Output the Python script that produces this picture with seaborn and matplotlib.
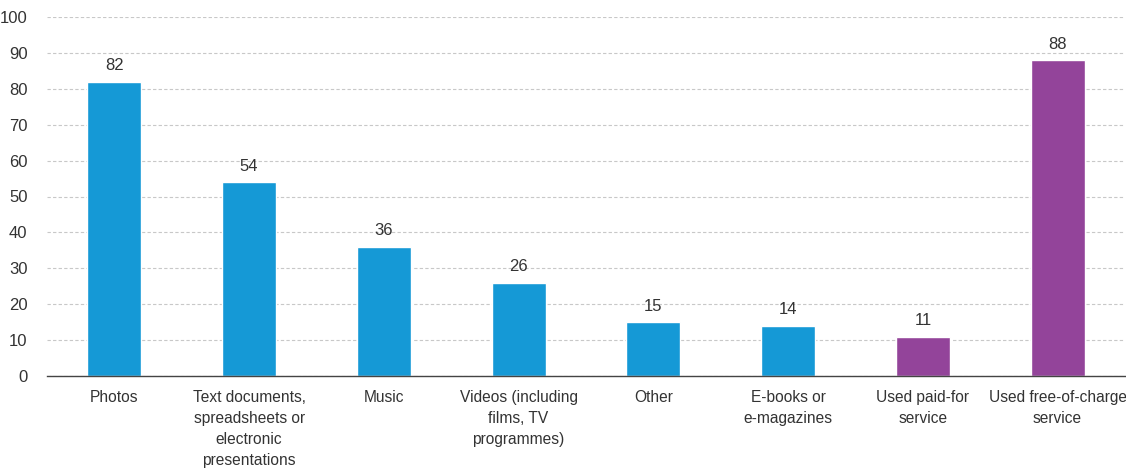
import matplotlib
matplotlib.use("Agg")
import matplotlib.pyplot as plt
import seaborn as sns
import numpy as np

categories = [
    "Photos",
    "Text documents,\nspreadsheets or\nelectronic\npresentations",
    "Music",
    "Videos (including\nfilms, TV\nprogrammes)",
    "Other",
    "E-books or\ne-magazines",
    "Used paid-for\nservice",
    "Used free-of-charge\nservice",
]
values = [82, 54, 36, 26, 15, 14, 11, 88]
bar_colors = ["#1599D6"] * 6 + ["#93449A"] * 2
yticks = [0, 10, 20, 30, 40, 50, 60, 70, 80, 90, 100]

sns.set_theme(style="white")
plt.rcParams["font.family"] = ["Liberation Sans", "DejaVu Sans"]

fig = plt.figure(figsize=(11.26, 4.68), dpi=100)
ax = fig.add_axes([47 / 1126, 1 - 376 / 468, 1078 / 1126, 359 / 468])

sns.barplot(x=categories, y=values, hue=categories, palette=bar_colors,
            width=0.4, legend=False, ax=ax, saturation=1)

for c in ax.containers:
    ax.bar_label(c, fmt="%d", padding=6, fontsize=12, color="#333333")

ax.set_ylim(0, 100)
ax.set_xlim(-0.5, 7.5)
ax.set_yticks(yticks)
ax.set_yticklabels([str(v) for v in yticks], fontsize=12, color="#333333")
ax.yaxis.grid(True, linestyle=(0, (3, 2)), color="#c8c8c8", linewidth=0.8)
ax.set_axisbelow(True)
ax.tick_params(axis="y", length=0, pad=14)
ax.tick_params(axis="x", which="major", length=0, pad=10, labelsize=11.2, labelcolor="#333333")
ax.set_xticks(np.arange(-0.5, 8, 1), minor=True)
ax.tick_params(axis="x", which="minor", length=5, width=1, color="#444444", direction="out")
for lbl in ax.get_xticklabels():
    lbl.set_linespacing(1.5)
for s in ["top", "right", "left"]:
    ax.spines[s].set_visible(False)
ax.spines["bottom"].set_color("#444444")
ax.spines["bottom"].set_linewidth(1)
ax.set_xlabel("")
ax.set_ylabel("")

fig.savefig("out.png", dpi=100)
